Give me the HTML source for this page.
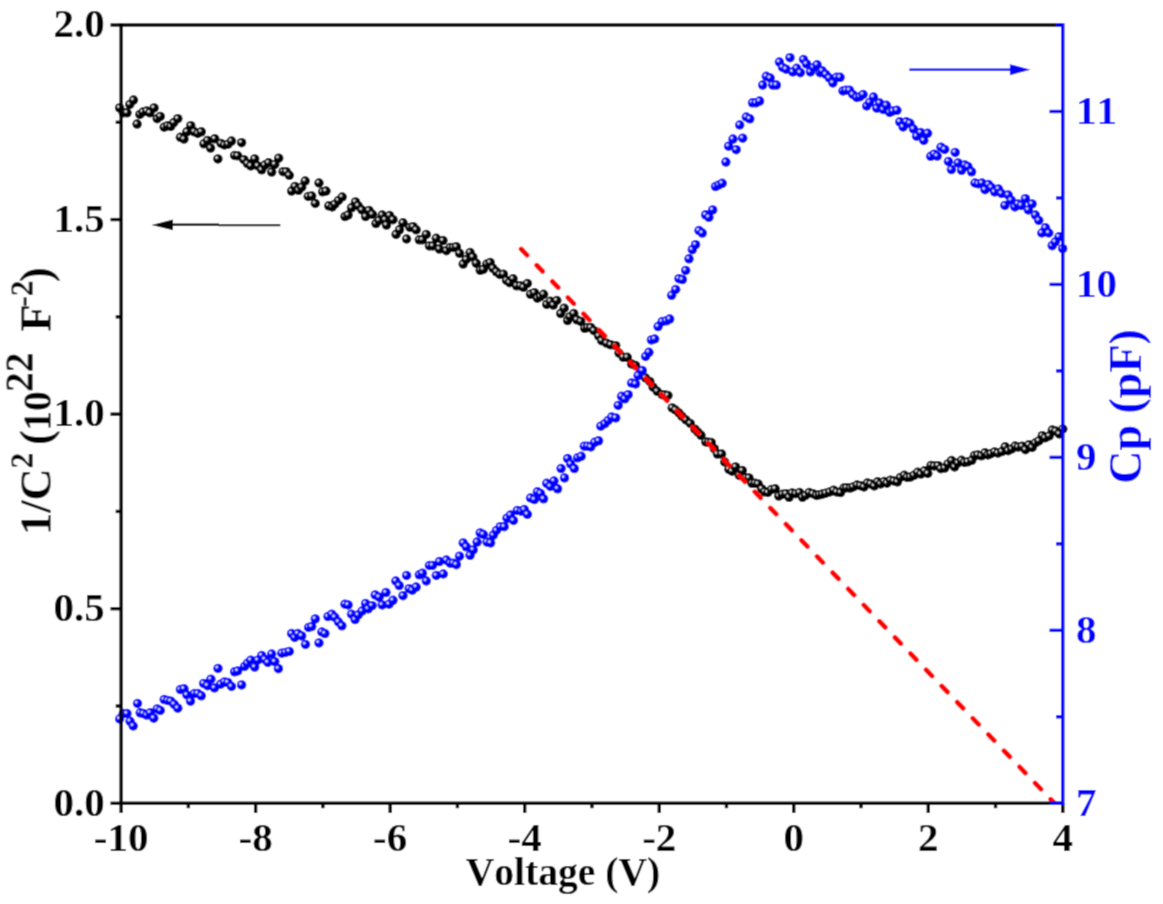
<!DOCTYPE html><html><head><meta charset="utf-8"><title>C-V plot</title><style>html,body{margin:0;padding:0;background:#fff;overflow:hidden;}svg{display:block;}text{font-family:"Liberation Serif",serif;font-weight:bold;font-kerning:none;}</style></head><body>
<svg width="1163" height="904" viewBox="0 0 1163 904">
<defs><radialGradient id="gk" cx="0.36" cy="0.36" r="0.62" fx="0.36" fy="0.36"><stop offset="0" stop-color="#fff"/><stop offset="0.16" stop-color="#aaa"/><stop offset="0.38" stop-color="#000"/><stop offset="1" stop-color="#000"/></radialGradient><radialGradient id="gb" cx="0.36" cy="0.36" r="0.62" fx="0.36" fy="0.36"><stop offset="0" stop-color="#fff"/><stop offset="0.16" stop-color="#aaf"/><stop offset="0.38" stop-color="#00f"/><stop offset="1" stop-color="#00f"/></radialGradient><clipPath id="pc"><rect x="0" y="0" width="1163" height="803.3"/></clipPath><filter id="soft" filterUnits="userSpaceOnUse" x="0" y="0" width="1163" height="904"><feConvolveMatrix order="3" kernelMatrix="0.0622 0.2494 0.0622 0.2494 1.0000 0.2494 0.0622 0.2494 0.0622" edgeMode="duplicate"/></filter></defs>
<g filter="url(#soft)">
<rect width="1163" height="904" fill="#fff"/>
<g fill="url(#gk)">
<circle cx="119.6" cy="107.9" r="4.75"/>
<circle cx="123.2" cy="112.8" r="4.75"/>
<circle cx="127" cy="112.8" r="4.75"/>
<circle cx="129.8" cy="104.5" r="4.75"/>
<circle cx="133.5" cy="100.1" r="4.75"/>
<circle cx="137.1" cy="124.1" r="4.75"/>
<circle cx="139.9" cy="114.4" r="4.75"/>
<circle cx="143" cy="112" r="4.75"/>
<circle cx="146.7" cy="111" r="4.75"/>
<circle cx="149.9" cy="112.8" r="4.75"/>
<circle cx="154.1" cy="107.9" r="4.75"/>
<circle cx="157.2" cy="118.7" r="4.75"/>
<circle cx="160.3" cy="116.4" r="4.75"/>
<circle cx="164.2" cy="127.2" r="4.75"/>
<circle cx="167.6" cy="125.7" r="4.75"/>
<circle cx="170.8" cy="126.4" r="4.75"/>
<circle cx="173.8" cy="122.6" r="4.75"/>
<circle cx="177.8" cy="118.7" r="4.75"/>
<circle cx="180.4" cy="137.3" r="4.75"/>
<circle cx="184" cy="139.1" r="4.75"/>
<circle cx="186.9" cy="131.8" r="4.75"/>
<circle cx="190.8" cy="125.7" r="4.75"/>
<circle cx="194.4" cy="131.8" r="4.75"/>
<circle cx="197.8" cy="133.4" r="4.75"/>
<circle cx="201.3" cy="131.8" r="4.75"/>
<circle cx="203.9" cy="143.8" r="4.75"/>
<circle cx="207.5" cy="140.4" r="4.75"/>
<circle cx="210.6" cy="148.1" r="4.75"/>
<circle cx="214.8" cy="138.8" r="4.75"/>
<circle cx="217.9" cy="158.9" r="4.75"/>
<circle cx="221.1" cy="143.5" r="4.75"/>
<circle cx="224.5" cy="145" r="4.75"/>
<circle cx="228.1" cy="144.2" r="4.75"/>
<circle cx="231.5" cy="141.1" r="4.75"/>
<circle cx="234.6" cy="155.5" r="4.75"/>
<circle cx="237.7" cy="155.8" r="4.75"/>
<circle cx="241.6" cy="142.7" r="4.75"/>
<circle cx="243.9" cy="159.7" r="4.75"/>
<circle cx="247.4" cy="163.6" r="4.75"/>
<circle cx="250.8" cy="165.9" r="4.75"/>
<circle cx="254.7" cy="158.9" r="4.75"/>
<circle cx="257.8" cy="165.9" r="4.75"/>
<circle cx="261.7" cy="169.8" r="4.75"/>
<circle cx="264.8" cy="165.1" r="4.75"/>
<circle cx="268.6" cy="162.8" r="4.75"/>
<circle cx="271.7" cy="172.1" r="4.75"/>
<circle cx="274.8" cy="164.4" r="4.75"/>
<circle cx="278.7" cy="158.2" r="4.75"/>
<circle cx="283.1" cy="171.7" r="4.75"/>
<circle cx="286.2" cy="171.7" r="4.75"/>
<circle cx="289.3" cy="175.3" r="4.75"/>
<circle cx="291.6" cy="191.1" r="4.75"/>
<circle cx="295" cy="186.4" r="4.75"/>
<circle cx="298.6" cy="190.3" r="4.75"/>
<circle cx="301.7" cy="187.2" r="4.75"/>
<circle cx="305.2" cy="181" r="4.75"/>
<circle cx="308.2" cy="196.5" r="4.75"/>
<circle cx="311.7" cy="196" r="4.75"/>
<circle cx="315.3" cy="203.5" r="4.75"/>
<circle cx="319" cy="183" r="4.75"/>
<circle cx="322.6" cy="191.8" r="4.75"/>
<circle cx="326" cy="191.1" r="4.75"/>
<circle cx="328.8" cy="205.8" r="4.75"/>
<circle cx="332.2" cy="206.9" r="4.75"/>
<circle cx="334.9" cy="204.2" r="4.75"/>
<circle cx="338.5" cy="200.4" r="4.75"/>
<circle cx="342.2" cy="197" r="4.75"/>
<circle cx="345" cy="216.6" r="4.75"/>
<circle cx="348.1" cy="215.1" r="4.75"/>
<circle cx="351.5" cy="207.8" r="4.75"/>
<circle cx="355.5" cy="201.9" r="4.75"/>
<circle cx="358.2" cy="205.8" r="4.75"/>
<circle cx="362" cy="210" r="4.75"/>
<circle cx="365.6" cy="216.6" r="4.75"/>
<circle cx="369" cy="210.4" r="4.75"/>
<circle cx="372.4" cy="214.3" r="4.75"/>
<circle cx="376" cy="223.6" r="4.75"/>
<circle cx="379.1" cy="220.5" r="4.75"/>
<circle cx="382.2" cy="215.1" r="4.75"/>
<circle cx="385.2" cy="219.7" r="4.75"/>
<circle cx="386.5" cy="225.1" r="4.75"/>
<circle cx="389.6" cy="215.5" r="4.75"/>
<circle cx="393" cy="219.7" r="4.75"/>
<circle cx="396.1" cy="234.4" r="4.75"/>
<circle cx="399.5" cy="229.8" r="4.75"/>
<circle cx="403" cy="222.8" r="4.75"/>
<circle cx="406.6" cy="239" r="4.75"/>
<circle cx="410" cy="227.4" r="4.75"/>
<circle cx="413.1" cy="226.7" r="4.75"/>
<circle cx="416.2" cy="229.8" r="4.75"/>
<circle cx="419.3" cy="239.8" r="4.75"/>
<circle cx="422.4" cy="239.8" r="4.75"/>
<circle cx="426.3" cy="234.4" r="4.75"/>
<circle cx="429.4" cy="246" r="4.75"/>
<circle cx="432.9" cy="246" r="4.75"/>
<circle cx="436.3" cy="238.3" r="4.75"/>
<circle cx="439.4" cy="249.1" r="4.75"/>
<circle cx="443" cy="240.6" r="4.75"/>
<circle cx="446.4" cy="250.7" r="4.75"/>
<circle cx="450.2" cy="247.6" r="4.75"/>
<circle cx="453.3" cy="247.6" r="4.75"/>
<circle cx="456.4" cy="246.8" r="4.75"/>
<circle cx="459.6" cy="253.3" r="4.75"/>
<circle cx="463.2" cy="264.1" r="4.75"/>
<circle cx="466.3" cy="259.5" r="4.75"/>
<circle cx="470.1" cy="252.5" r="4.75"/>
<circle cx="472.9" cy="257.1" r="4.75"/>
<circle cx="476.3" cy="263.3" r="4.75"/>
<circle cx="480.2" cy="270.3" r="4.75"/>
<circle cx="483.3" cy="269.5" r="4.75"/>
<circle cx="486.8" cy="264.1" r="4.75"/>
<circle cx="490.2" cy="262.6" r="4.75"/>
<circle cx="493" cy="268.3" r="4.75"/>
<circle cx="496.4" cy="271.8" r="4.75"/>
<circle cx="499.8" cy="274.5" r="4.75"/>
<circle cx="503.4" cy="274.2" r="4.75"/>
<circle cx="506.5" cy="280.4" r="4.75"/>
<circle cx="509.6" cy="282.7" r="4.75"/>
<circle cx="513.1" cy="278.8" r="4.75"/>
<circle cx="516.6" cy="285.8" r="4.75"/>
<circle cx="520.4" cy="285.8" r="4.75"/>
<circle cx="523.5" cy="287.3" r="4.75"/>
<circle cx="527.4" cy="283.5" r="4.75"/>
<circle cx="530.5" cy="294.3" r="4.75"/>
<circle cx="534.4" cy="292.7" r="4.75"/>
<circle cx="537.4" cy="298.2" r="4.75"/>
<circle cx="540.5" cy="296.6" r="4.75"/>
<circle cx="543.6" cy="294.3" r="4.75"/>
<circle cx="546.7" cy="304.4" r="4.75"/>
<circle cx="550.3" cy="301.3" r="4.75"/>
<circle cx="553.4" cy="305.1" r="4.75"/>
<circle cx="556.8" cy="300.5" r="4.75"/>
<circle cx="560.7" cy="313.6" r="4.75"/>
<circle cx="564.2" cy="308.2" r="4.75"/>
<circle cx="567.6" cy="320.6" r="4.75"/>
<circle cx="570" cy="316.7" r="4.75"/>
<circle cx="573.8" cy="313.6" r="4.75"/>
<circle cx="576.9" cy="319.8" r="4.75"/>
<circle cx="580.8" cy="321.4" r="4.75"/>
<circle cx="584.7" cy="328.3" r="4.75"/>
<circle cx="587.7" cy="327.6" r="4.75"/>
<circle cx="590.8" cy="327.6" r="4.75"/>
<circle cx="594" cy="330.7" r="4.75"/>
<circle cx="598.6" cy="336" r="4.75"/>
<circle cx="601.6" cy="340.7" r="4.75"/>
<circle cx="606.6" cy="343.2" r="4.75"/>
<circle cx="610.7" cy="344.8" r="4.75"/>
<circle cx="615.7" cy="345.7" r="4.75"/>
<circle cx="619" cy="353.1" r="4.75"/>
<circle cx="623.2" cy="357.3" r="4.75"/>
<circle cx="627.3" cy="357.3" r="4.75"/>
<circle cx="631.5" cy="363.9" r="4.75"/>
<circle cx="635.6" cy="365.6" r="4.75"/>
<circle cx="640.6" cy="371.4" r="4.75"/>
<circle cx="645.6" cy="378" r="4.75"/>
<circle cx="649.8" cy="381.4" r="4.75"/>
<circle cx="653.1" cy="387.2" r="4.75"/>
<circle cx="657.2" cy="391.3" r="4.75"/>
<circle cx="662.2" cy="394.7" r="4.75"/>
<circle cx="665" cy="395" r="4.75"/>
<circle cx="668" cy="395.5" r="4.75"/>
<circle cx="672.2" cy="407.9" r="4.75"/>
<circle cx="675.5" cy="410" r="4.75"/>
<circle cx="679" cy="413" r="4.75"/>
<circle cx="682" cy="416.4" r="4.75"/>
<circle cx="686" cy="420" r="4.75"/>
<circle cx="690.3" cy="423.5" r="4.75"/>
<circle cx="694.9" cy="429.2" r="4.75"/>
<circle cx="697.95" cy="432.25" r="4.75"/>
<circle cx="701" cy="435.3" r="4.75"/>
<circle cx="705.8" cy="442" r="4.75"/>
<circle cx="708.55" cy="442.3" r="4.75"/>
<circle cx="711.3" cy="442.6" r="4.75"/>
<circle cx="714.3" cy="448.7" r="4.75"/>
<circle cx="717.4" cy="454.1" r="4.75"/>
<circle cx="721.6" cy="454.1" r="4.75"/>
<circle cx="724.7" cy="462" r="4.75"/>
<circle cx="728.9" cy="469.3" r="4.75"/>
<circle cx="732" cy="471.2" r="4.75"/>
<circle cx="735.6" cy="466.9" r="4.75"/>
<circle cx="739.3" cy="475.4" r="4.75"/>
<circle cx="742.3" cy="470.6" r="4.75"/>
<circle cx="746" cy="477.9" r="4.75"/>
<circle cx="749" cy="477.9" r="4.75"/>
<circle cx="752" cy="483.3" r="4.75"/>
<circle cx="755.1" cy="483.3" r="4.75"/>
<circle cx="758.1" cy="483.9" r="4.75"/>
<circle cx="761.8" cy="488.8" r="4.75"/>
<circle cx="764.8" cy="491.8" r="4.75"/>
<circle cx="767.9" cy="492.5" r="4.75"/>
<circle cx="771.5" cy="489.4" r="4.75"/>
<circle cx="775.2" cy="488.8" r="4.75"/>
<circle cx="778.8" cy="496.1" r="4.75"/>
<circle cx="782.5" cy="494.3" r="4.75"/>
<circle cx="786.1" cy="493.7" r="4.75"/>
<circle cx="789.1" cy="497.3" r="4.75"/>
<circle cx="792.2" cy="493.1" r="4.75"/>
<circle cx="795.8" cy="493.7" r="4.75"/>
<circle cx="799.5" cy="492.5" r="4.75"/>
<circle cx="802.5" cy="497.3" r="4.75"/>
<circle cx="805.6" cy="495.5" r="4.75"/>
<circle cx="809.2" cy="492.5" r="4.75"/>
<circle cx="812.9" cy="493.7" r="4.75"/>
<circle cx="816.5" cy="495.5" r="4.75"/>
<circle cx="819.5" cy="494.8" r="4.75"/>
<circle cx="822.5" cy="494.1" r="4.75"/>
<circle cx="825.8" cy="493.2" r="4.75"/>
<circle cx="829.7" cy="492" r="4.75"/>
<circle cx="833.6" cy="490.2" r="4.75"/>
<circle cx="836.7" cy="492" r="4.75"/>
<circle cx="840.6" cy="492.6" r="4.75"/>
<circle cx="843.9" cy="488.1" r="4.75"/>
<circle cx="846.6" cy="487.8" r="4.75"/>
<circle cx="850.2" cy="488.1" r="4.75"/>
<circle cx="853.2" cy="486.9" r="4.75"/>
<circle cx="857.1" cy="485.1" r="4.75"/>
<circle cx="860.4" cy="485.7" r="4.75"/>
<circle cx="864" cy="486.9" r="4.75"/>
<circle cx="867.4" cy="483" r="4.75"/>
<circle cx="870.7" cy="483.9" r="4.75"/>
<circle cx="874.3" cy="486" r="4.75"/>
<circle cx="877.6" cy="481.8" r="4.75"/>
<circle cx="880.6" cy="483.9" r="4.75"/>
<circle cx="884.2" cy="481.5" r="4.75"/>
<circle cx="887" cy="483.2" r="4.75"/>
<circle cx="890.5" cy="480.2" r="4.75"/>
<circle cx="893.8" cy="481" r="4.75"/>
<circle cx="897.4" cy="481.9" r="4.75"/>
<circle cx="900.4" cy="477.4" r="4.75"/>
<circle cx="904.4" cy="475.3" r="4.75"/>
<circle cx="907.1" cy="477.4" r="4.75"/>
<circle cx="910.4" cy="477.1" r="4.75"/>
<circle cx="914" cy="475.3" r="4.75"/>
<circle cx="917.6" cy="472.3" r="4.75"/>
<circle cx="920.9" cy="474.1" r="4.75"/>
<circle cx="924.5" cy="470.8" r="4.75"/>
<circle cx="927.8" cy="473.5" r="4.75"/>
<circle cx="931.1" cy="465.4" r="4.75"/>
<circle cx="934.2" cy="466" r="4.75"/>
<circle cx="938.1" cy="465.7" r="4.75"/>
<circle cx="940.8" cy="468.7" r="4.75"/>
<circle cx="944.7" cy="468.1" r="4.75"/>
<circle cx="948" cy="463.9" r="4.75"/>
<circle cx="951.6" cy="460.6" r="4.75"/>
<circle cx="954.6" cy="466.9" r="4.75"/>
<circle cx="957.9" cy="463" r="4.75"/>
<circle cx="961.5" cy="460.3" r="4.75"/>
<circle cx="964.5" cy="462.4" r="4.75"/>
<circle cx="967.9" cy="461.8" r="4.75"/>
<circle cx="971.8" cy="460.3" r="4.75"/>
<circle cx="974.5" cy="455.5" r="4.75"/>
<circle cx="977.8" cy="454.9" r="4.75"/>
<circle cx="981.4" cy="455.8" r="4.75"/>
<circle cx="985" cy="452.8" r="4.75"/>
<circle cx="988" cy="454.9" r="4.75"/>
<circle cx="991" cy="453.7" r="4.75"/>
<circle cx="994.6" cy="451.9" r="4.75"/>
<circle cx="997.9" cy="453.1" r="4.75"/>
<circle cx="1001.9" cy="451.6" r="4.75"/>
<circle cx="1005.2" cy="446.8" r="4.75"/>
<circle cx="1008.2" cy="450.7" r="4.75"/>
<circle cx="1011.8" cy="448.9" r="4.75"/>
<circle cx="1015.2" cy="446.1" r="4.75"/>
<circle cx="1018.3" cy="447.1" r="4.75"/>
<circle cx="1022.1" cy="446.3" r="4.75"/>
<circle cx="1025.5" cy="449.7" r="4.75"/>
<circle cx="1028.8" cy="444.8" r="4.75"/>
<circle cx="1032.2" cy="447.4" r="4.75"/>
<circle cx="1035.3" cy="443" r="4.75"/>
<circle cx="1038.9" cy="440.9" r="4.75"/>
<circle cx="1042.3" cy="435.7" r="4.75"/>
<circle cx="1045.1" cy="437.8" r="4.75"/>
<circle cx="1049.2" cy="436" r="4.75"/>
<circle cx="1052.3" cy="430.1" r="4.75"/>
<circle cx="1055.7" cy="431.1" r="4.75"/>
<circle cx="1059.3" cy="433.9" r="4.75"/>
<circle cx="1062.8" cy="429" r="4.75"/>
</g>
<path clip-path="url(#pc)" d="M521.19 249.07L527.01 255.13M536.76 265.26L542.59 271.31M552.34 281.44L558.16 287.49M567.91 297.62L573.73 303.67M583.48 313.80L589.31 319.86M599.06 329.99L604.88 336.04M614.63 346.17L620.45 352.22M630.20 362.35L636.03 368.40M645.78 378.53L651.60 384.59M661.35 394.72L667.18 400.77M676.93 410.90L682.75 416.95M692.50 427.08L698.32 433.13M708.07 443.26L713.90 449.32M723.65 459.45L729.47 465.50M739.22 475.63L745.04 481.68M754.79 491.81L760.62 497.86M770.37 507.99L776.19 514.04M785.94 524.18L791.77 530.23M801.52 540.36L807.34 546.41M817.09 556.54L822.91 562.59M832.66 572.72L838.49 578.77M848.24 588.90L854.06 594.96M863.81 605.09L869.64 611.14M879.38 621.27L885.21 627.32M894.96 637.45L900.78 643.50M910.53 653.63L916.36 659.69M926.11 669.82L931.93 675.87M941.68 686.00L947.50 692.05M957.25 702.18L963.08 708.23M972.83 718.36L978.65 724.42M988.40 734.55L994.23 740.60M1003.97 750.73L1009.80 756.78M1019.55 766.91L1025.37 772.96M1035.12 783.09L1040.95 789.15M1050.70 799.28L1056.52 805.33" stroke="#f00" stroke-width="4.9" stroke-linecap="round" fill="none"/>
<g fill="url(#gb)">
<circle cx="119.6" cy="719" r="4.75"/>
<circle cx="123.2" cy="713.6" r="4.75"/>
<circle cx="127" cy="713.6" r="4.75"/>
<circle cx="130.1" cy="721.3" r="4.75"/>
<circle cx="133.2" cy="726" r="4.75"/>
<circle cx="137.5" cy="703.5" r="4.75"/>
<circle cx="140.2" cy="712.8" r="4.75"/>
<circle cx="143.3" cy="713.6" r="4.75"/>
<circle cx="146.8" cy="715.1" r="4.75"/>
<circle cx="150.2" cy="712.8" r="4.75"/>
<circle cx="153.8" cy="718.2" r="4.75"/>
<circle cx="157.2" cy="708.9" r="4.75"/>
<circle cx="160.3" cy="710.5" r="4.75"/>
<circle cx="164.2" cy="699.6" r="4.75"/>
<circle cx="167.6" cy="700.4" r="4.75"/>
<circle cx="170.8" cy="701.2" r="4.75"/>
<circle cx="174.2" cy="704.3" r="4.75"/>
<circle cx="177.8" cy="708.2" r="4.75"/>
<circle cx="180.4" cy="689.6" r="4.75"/>
<circle cx="184" cy="688.8" r="4.75"/>
<circle cx="186.9" cy="695" r="4.75"/>
<circle cx="190.5" cy="701.2" r="4.75"/>
<circle cx="194.4" cy="693.5" r="4.75"/>
<circle cx="197.8" cy="693.5" r="4.75"/>
<circle cx="201.3" cy="695.8" r="4.75"/>
<circle cx="203.6" cy="683.4" r="4.75"/>
<circle cx="207.5" cy="685.7" r="4.75"/>
<circle cx="210.9" cy="679.2" r="4.75"/>
<circle cx="214.5" cy="688" r="4.75"/>
<circle cx="218" cy="668.4" r="4.75"/>
<circle cx="220.7" cy="684.2" r="4.75"/>
<circle cx="224.5" cy="681.9" r="4.75"/>
<circle cx="227.9" cy="682.6" r="4.75"/>
<circle cx="231.5" cy="686.5" r="4.75"/>
<circle cx="234.6" cy="671.8" r="4.75"/>
<circle cx="237.7" cy="671" r="4.75"/>
<circle cx="241.6" cy="684.9" r="4.75"/>
<circle cx="244.6" cy="666.4" r="4.75"/>
<circle cx="247.4" cy="663.3" r="4.75"/>
<circle cx="250.8" cy="660.2" r="4.75"/>
<circle cx="254.7" cy="667.1" r="4.75"/>
<circle cx="257.8" cy="660.2" r="4.75"/>
<circle cx="261.7" cy="655.5" r="4.75"/>
<circle cx="264.8" cy="659.4" r="4.75"/>
<circle cx="267.9" cy="662.5" r="4.75"/>
<circle cx="271.7" cy="654" r="4.75"/>
<circle cx="274.8" cy="661.7" r="4.75"/>
<circle cx="278.4" cy="668.7" r="4.75"/>
<circle cx="281.8" cy="653.2" r="4.75"/>
<circle cx="285.5" cy="652.5" r="4.75"/>
<circle cx="289.3" cy="651.4" r="4.75"/>
<circle cx="291.6" cy="633.6" r="4.75"/>
<circle cx="294.7" cy="637.4" r="4.75"/>
<circle cx="297.8" cy="633.6" r="4.75"/>
<circle cx="301.7" cy="635.9" r="4.75"/>
<circle cx="305.5" cy="644.4" r="4.75"/>
<circle cx="308.6" cy="627.4" r="4.75"/>
<circle cx="311.7" cy="626.6" r="4.75"/>
<circle cx="315.3" cy="618.9" r="4.75"/>
<circle cx="319" cy="642.9" r="4.75"/>
<circle cx="321.8" cy="632" r="4.75"/>
<circle cx="324.9" cy="633.6" r="4.75"/>
<circle cx="328" cy="616.6" r="4.75"/>
<circle cx="331.8" cy="614.2" r="4.75"/>
<circle cx="334.9" cy="617.3" r="4.75"/>
<circle cx="338.5" cy="622" r="4.75"/>
<circle cx="341.9" cy="625.8" r="4.75"/>
<circle cx="345" cy="604.2" r="4.75"/>
<circle cx="348.1" cy="604.9" r="4.75"/>
<circle cx="351.5" cy="614.2" r="4.75"/>
<circle cx="355.1" cy="619.6" r="4.75"/>
<circle cx="358.2" cy="615" r="4.75"/>
<circle cx="362" cy="611.1" r="4.75"/>
<circle cx="365.6" cy="603.4" r="4.75"/>
<circle cx="368.2" cy="608.8" r="4.75"/>
<circle cx="372.1" cy="605.7" r="4.75"/>
<circle cx="375.2" cy="594.9" r="4.75"/>
<circle cx="379.1" cy="597.2" r="4.75"/>
<circle cx="382.2" cy="604.9" r="4.75"/>
<circle cx="386" cy="592.6" r="4.75"/>
<circle cx="389.1" cy="604.2" r="4.75"/>
<circle cx="393" cy="600.3" r="4.75"/>
<circle cx="395.8" cy="581" r="4.75"/>
<circle cx="399.2" cy="585.6" r="4.75"/>
<circle cx="403" cy="595.7" r="4.75"/>
<circle cx="406.6" cy="575.5" r="4.75"/>
<circle cx="409.2" cy="588.7" r="4.75"/>
<circle cx="412.3" cy="590.2" r="4.75"/>
<circle cx="416.2" cy="587.1" r="4.75"/>
<circle cx="419.3" cy="574.8" r="4.75"/>
<circle cx="422.4" cy="573.2" r="4.75"/>
<circle cx="426.3" cy="581" r="4.75"/>
<circle cx="429.4" cy="565.5" r="4.75"/>
<circle cx="432.5" cy="565.5" r="4.75"/>
<circle cx="436.3" cy="575.5" r="4.75"/>
<circle cx="439.4" cy="561.6" r="4.75"/>
<circle cx="443.3" cy="574" r="4.75"/>
<circle cx="446.4" cy="560.1" r="4.75"/>
<circle cx="450.2" cy="563.2" r="4.75"/>
<circle cx="453.3" cy="563.2" r="4.75"/>
<circle cx="456.4" cy="564.7" r="4.75"/>
<circle cx="459.5" cy="556.2" r="4.75"/>
<circle cx="463.2" cy="542.9" r="4.75"/>
<circle cx="466.3" cy="546.8" r="4.75"/>
<circle cx="470.1" cy="555.3" r="4.75"/>
<circle cx="473.2" cy="549.9" r="4.75"/>
<circle cx="477.1" cy="542.1" r="4.75"/>
<circle cx="480.2" cy="532.9" r="4.75"/>
<circle cx="483.3" cy="534.4" r="4.75"/>
<circle cx="487.1" cy="542.1" r="4.75"/>
<circle cx="490.6" cy="542.9" r="4.75"/>
<circle cx="493.3" cy="535.2" r="4.75"/>
<circle cx="496.4" cy="530.5" r="4.75"/>
<circle cx="500.3" cy="526.7" r="4.75"/>
<circle cx="504.2" cy="526.7" r="4.75"/>
<circle cx="507" cy="518.2" r="4.75"/>
<circle cx="510.4" cy="515.1" r="4.75"/>
<circle cx="513.5" cy="520.5" r="4.75"/>
<circle cx="517.3" cy="510.4" r="4.75"/>
<circle cx="521.2" cy="511.2" r="4.75"/>
<circle cx="524.3" cy="509.6" r="4.75"/>
<circle cx="527.4" cy="514.3" r="4.75"/>
<circle cx="530.5" cy="498" r="4.75"/>
<circle cx="534.4" cy="499.6" r="4.75"/>
<circle cx="537.4" cy="491.8" r="4.75"/>
<circle cx="540.5" cy="493.4" r="4.75"/>
<circle cx="543.6" cy="498.8" r="4.75"/>
<circle cx="546.7" cy="483.3" r="4.75"/>
<circle cx="550.3" cy="486.4" r="4.75"/>
<circle cx="554" cy="481" r="4.75"/>
<circle cx="557.6" cy="488.8" r="4.75"/>
<circle cx="561.1" cy="468.6" r="4.75"/>
<circle cx="564.5" cy="477.9" r="4.75"/>
<circle cx="567.6" cy="458.6" r="4.75"/>
<circle cx="570.7" cy="464" r="4.75"/>
<circle cx="574.3" cy="468.6" r="4.75"/>
<circle cx="577.7" cy="457.8" r="4.75"/>
<circle cx="581.2" cy="456.3" r="4.75"/>
<circle cx="584.3" cy="446.2" r="4.75"/>
<circle cx="587.7" cy="446.2" r="4.75"/>
<circle cx="590.8" cy="447" r="4.75"/>
<circle cx="594.7" cy="442.3" r="4.75"/>
<circle cx="598.6" cy="440.8" r="4.75"/>
<circle cx="600.8" cy="426.2" r="4.75"/>
<circle cx="604.9" cy="423.7" r="4.75"/>
<circle cx="608.2" cy="420.4" r="4.75"/>
<circle cx="611.6" cy="417.1" r="4.75"/>
<circle cx="615.7" cy="417.9" r="4.75"/>
<circle cx="618.2" cy="405.4" r="4.75"/>
<circle cx="621.5" cy="396.3" r="4.75"/>
<circle cx="624.9" cy="398.8" r="4.75"/>
<circle cx="628.2" cy="394.7" r="4.75"/>
<circle cx="631.5" cy="383" r="4.75"/>
<circle cx="635.6" cy="383.9" r="4.75"/>
<circle cx="638.1" cy="375.6" r="4.75"/>
<circle cx="642.3" cy="370.6" r="4.75"/>
<circle cx="645.6" cy="356.5" r="4.75"/>
<circle cx="648.9" cy="352.3" r="4.75"/>
<circle cx="651.4" cy="339.9" r="4.75"/>
<circle cx="654.7" cy="339" r="4.75"/>
<circle cx="658.1" cy="326.6" r="4.75"/>
<circle cx="662.2" cy="321.6" r="4.75"/>
<circle cx="666.4" cy="320.8" r="4.75"/>
<circle cx="669.7" cy="319.1" r="4.75"/>
<circle cx="671.6" cy="295.3" r="4.75"/>
<circle cx="675.7" cy="289.5" r="4.75"/>
<circle cx="679" cy="278.7" r="4.75"/>
<circle cx="682.4" cy="279.6" r="4.75"/>
<circle cx="685.7" cy="270.4" r="4.75"/>
<circle cx="689" cy="258.8" r="4.75"/>
<circle cx="692.3" cy="249.7" r="4.75"/>
<circle cx="695.6" cy="244.7" r="4.75"/>
<circle cx="699" cy="230.6" r="4.75"/>
<circle cx="702.3" cy="233.1" r="4.75"/>
<circle cx="705.6" cy="214.8" r="4.75"/>
<circle cx="708.9" cy="217.3" r="4.75"/>
<circle cx="712.7" cy="209.9" r="4.75"/>
<circle cx="715.5" cy="186.6" r="4.75"/>
<circle cx="718.9" cy="185" r="4.75"/>
<circle cx="722.2" cy="183.3" r="4.75"/>
<circle cx="725.9" cy="162.1" r="4.75"/>
<circle cx="728.6" cy="146.2" r="4.75"/>
<circle cx="733" cy="139.1" r="4.75"/>
<circle cx="736.2" cy="149.7" r="4.75"/>
<circle cx="739.7" cy="125" r="4.75"/>
<circle cx="742.7" cy="138.2" r="4.75"/>
<circle cx="746.3" cy="117" r="4.75"/>
<circle cx="749.8" cy="118.8" r="4.75"/>
<circle cx="752.5" cy="102.8" r="4.75"/>
<circle cx="756" cy="102.8" r="4.75"/>
<circle cx="759.6" cy="101.1" r="4.75"/>
<circle cx="762.7" cy="85.1" r="4.75"/>
<circle cx="766.3" cy="76.3" r="4.75"/>
<circle cx="770.2" cy="78.1" r="4.75"/>
<circle cx="772.8" cy="85.1" r="4.75"/>
<circle cx="776.4" cy="85.1" r="4.75"/>
<circle cx="779.4" cy="62.1" r="4.75"/>
<circle cx="782.6" cy="67.4" r="4.75"/>
<circle cx="786.1" cy="69.2" r="4.75"/>
<circle cx="790" cy="57.7" r="4.75"/>
<circle cx="792.8" cy="71.9" r="4.75"/>
<circle cx="796.7" cy="68.3" r="4.75"/>
<circle cx="800.3" cy="72.7" r="4.75"/>
<circle cx="803.5" cy="59.5" r="4.75"/>
<circle cx="806.5" cy="63.9" r="4.75"/>
<circle cx="810.4" cy="71.9" r="4.75"/>
<circle cx="813.5" cy="67.4" r="4.75"/>
<circle cx="817.1" cy="64.8" r="4.75"/>
<circle cx="820.1" cy="72.7" r="4.75"/>
<circle cx="822.2" cy="70.8" r="4.75"/>
<circle cx="825.8" cy="74.4" r="4.75"/>
<circle cx="829.3" cy="78" r="4.75"/>
<circle cx="832.9" cy="83" r="4.75"/>
<circle cx="836.5" cy="77.3" r="4.75"/>
<circle cx="840.1" cy="77.3" r="4.75"/>
<circle cx="843" cy="90.9" r="4.75"/>
<circle cx="845.9" cy="90.2" r="4.75"/>
<circle cx="849.5" cy="90.2" r="4.75"/>
<circle cx="852.8" cy="94.5" r="4.75"/>
<circle cx="856.7" cy="97.4" r="4.75"/>
<circle cx="860" cy="96.7" r="4.75"/>
<circle cx="863.1" cy="94.5" r="4.75"/>
<circle cx="866.7" cy="106" r="4.75"/>
<circle cx="869.6" cy="102.4" r="4.75"/>
<circle cx="873.5" cy="97.1" r="4.75"/>
<circle cx="876.8" cy="108.2" r="4.75"/>
<circle cx="879.7" cy="103.1" r="4.75"/>
<circle cx="883.3" cy="109.6" r="4.75"/>
<circle cx="886.4" cy="105.3" r="4.75"/>
<circle cx="889.7" cy="112.5" r="4.75"/>
<circle cx="893" cy="111" r="4.75"/>
<circle cx="896.9" cy="110.3" r="4.75"/>
<circle cx="899.8" cy="121.8" r="4.75"/>
<circle cx="903.1" cy="126.9" r="4.75"/>
<circle cx="906.3" cy="121.8" r="4.75"/>
<circle cx="909.9" cy="123.3" r="4.75"/>
<circle cx="913.5" cy="129" r="4.75"/>
<circle cx="916.6" cy="136.2" r="4.75"/>
<circle cx="920.7" cy="132.6" r="4.75"/>
<circle cx="923.8" cy="140.5" r="4.75"/>
<circle cx="927.6" cy="133.3" r="4.75"/>
<circle cx="930.7" cy="156.3" r="4.75"/>
<circle cx="934.3" cy="154.2" r="4.75"/>
<circle cx="937.2" cy="156.1" r="4.75"/>
<circle cx="941" cy="147.2" r="4.75"/>
<circle cx="944.7" cy="149.4" r="4.75"/>
<circle cx="948.4" cy="161.4" r="4.75"/>
<circle cx="951.4" cy="169.6" r="4.75"/>
<circle cx="955.2" cy="152.4" r="4.75"/>
<circle cx="958.1" cy="162.9" r="4.75"/>
<circle cx="961.6" cy="170.3" r="4.75"/>
<circle cx="964.9" cy="165.1" r="4.75"/>
<circle cx="967.9" cy="166.6" r="4.75"/>
<circle cx="971.6" cy="171.8" r="4.75"/>
<circle cx="975" cy="183" r="4.75"/>
<circle cx="978.3" cy="183.8" r="4.75"/>
<circle cx="982" cy="183" r="4.75"/>
<circle cx="985" cy="189.7" r="4.75"/>
<circle cx="988.5" cy="184.5" r="4.75"/>
<circle cx="991.5" cy="187.5" r="4.75"/>
<circle cx="994.7" cy="192" r="4.75"/>
<circle cx="998.5" cy="189" r="4.75"/>
<circle cx="1001.5" cy="193.5" r="4.75"/>
<circle cx="1004.9" cy="205.4" r="4.75"/>
<circle cx="1008.2" cy="195" r="4.75"/>
<circle cx="1011.2" cy="200.2" r="4.75"/>
<circle cx="1014.9" cy="206.9" r="4.75"/>
<circle cx="1017.9" cy="203.9" r="4.75"/>
<circle cx="1021.3" cy="205.4" r="4.75"/>
<circle cx="1025.4" cy="198.7" r="4.75"/>
<circle cx="1028.3" cy="209.9" r="4.75"/>
<circle cx="1032.1" cy="203.9" r="4.75"/>
<circle cx="1035.4" cy="215.1" r="4.75"/>
<circle cx="1038.8" cy="220.4" r="4.75"/>
<circle cx="1041.8" cy="233" r="4.75"/>
<circle cx="1045.5" cy="227.8" r="4.75"/>
<circle cx="1048.8" cy="233" r="4.75"/>
<circle cx="1052.2" cy="245.7" r="4.75"/>
<circle cx="1055.2" cy="242" r="4.75"/>
<circle cx="1059" cy="236.8" r="4.75"/>
<circle cx="1062.7" cy="248.7" r="4.75"/>
</g>
<g stroke="#000" stroke-width="3.4" fill="none">
<path d="M119.4 25H1062.8"/>
<path d="M121.1 23.3V805"/>
<path d="M119.4 803.3H1062.8"/>
<path d="M110.5 25H121.1"/>
<path d="M115.7 122.29H121.1"/>
<path d="M110.5 219.57H121.1"/>
<path d="M115.7 316.86H121.1"/>
<path d="M110.5 414.15H121.1"/>
<path d="M115.7 511.44H121.1"/>
<path d="M110.5 608.72H121.1"/>
<path d="M115.7 706.01H121.1"/>
<path d="M110.5 803.3H121.1"/>
<path d="M121.1 803.3V812.9"/>
<path d="M188.36 803.3V808.2"/>
<path d="M255.63 803.3V812.9"/>
<path d="M322.89 803.3V808.2"/>
<path d="M390.16 803.3V812.9"/>
<path d="M457.42 803.3V808.2"/>
<path d="M524.69 803.3V812.9"/>
<path d="M591.95 803.3V808.2"/>
<path d="M659.21 803.3V812.9"/>
<path d="M726.48 803.3V808.2"/>
<path d="M793.74 803.3V812.9"/>
<path d="M861.01 803.3V808.2"/>
<path d="M928.27 803.3V812.9"/>
<path d="M995.54 803.3V808.2"/>
<path d="M1062.8 803.3V812.9"/>
</g>
<g stroke="#00f" stroke-width="3.4" fill="none">
<path d="M1062.8 23.3V805"/>
<path d="M1049.5 803.3H1062.8"/>
<path d="M1056 716.82H1062.8"/>
<path d="M1049.5 630.34H1062.8"/>
<path d="M1056 543.87H1062.8"/>
<path d="M1049.5 457.39H1062.8"/>
<path d="M1056 370.91H1062.8"/>
<path d="M1049.5 284.43H1062.8"/>
<path d="M1056 197.96H1062.8"/>
<path d="M1049.5 111.48H1062.8"/>
<path d="M1056 25H1062.8"/>
</g>
<path d="M172 224.7H219" stroke="#000" stroke-width="2.4"/>
<path d="M218.5 225.2H280.3" stroke="#222" stroke-width="2.2"/>
<path d="M151.7 224.9L173 219.6L173 230.2Z" fill="#000"/>
<path d="M909.4 69.7H1011" stroke="#00f" stroke-width="2.5"/>
<path d="M1030.5 69.7L1009.9 64.2L1009.9 75.2Z" fill="#00f"/>
<text x="104.8" y="37.3" font-size="41" text-anchor="end">2.0</text>
<text x="104.8" y="231.88" font-size="41" text-anchor="end">1.5</text>
<text x="104.8" y="426.45" font-size="41" text-anchor="end">1.0</text>
<text x="104.8" y="621.02" font-size="41" text-anchor="end">0.5</text>
<text x="104.8" y="815.6" font-size="41" text-anchor="end">0.0</text>
<text x="121.1" y="851" font-size="41" text-anchor="middle">-10</text>
<text x="255.63" y="851" font-size="41" text-anchor="middle">-8</text>
<text x="390.16" y="851" font-size="41" text-anchor="middle">-6</text>
<text x="524.69" y="851" font-size="41" text-anchor="middle">-4</text>
<text x="659.21" y="851" font-size="41" text-anchor="middle">-2</text>
<text x="793.74" y="851" font-size="41" text-anchor="middle">0</text>
<text x="928.27" y="851" font-size="41" text-anchor="middle">2</text>
<text x="1062.8" y="851" font-size="41" text-anchor="middle">4</text>
<text x="1076" y="815.6" font-size="41" fill="#00f">7</text>
<text x="1076" y="642.64" font-size="41" fill="#00f">8</text>
<text x="1076" y="469.69" font-size="41" fill="#00f">9</text>
<text x="1076" y="296.73" font-size="41" fill="#00f">10</text>
<text x="1076" y="123.78" font-size="41" fill="#00f">11</text>
<text x="563" y="885" font-size="39.6" text-anchor="middle">Voltage (V)</text>
<g transform="translate(50.5 540) rotate(-90)">
<text x="4.9" y="0" font-size="44.5">1/C</text>
<text x="71.6" y="-18.3" font-size="31.7" font-weight="normal">2</text>
<text x="94.9" y="0" font-size="44.5">(</text>
<text x="109.3" y="0" font-size="39.5">10</text>
<text x="147.9" y="-18" font-size="39.5">22</text>
<text x="208.6" y="0" font-size="44.5">F</text>
<text x="233.2" y="-18.2" font-size="31.7">-2</text>
<text x="258.1" y="0" font-size="44.5">)</text>
</g>
<text transform="translate(1140.5 406.5) rotate(-90)" font-size="46" fill="#00f" text-anchor="middle">Cp (pF)</text>
</g>
</svg></body></html>
